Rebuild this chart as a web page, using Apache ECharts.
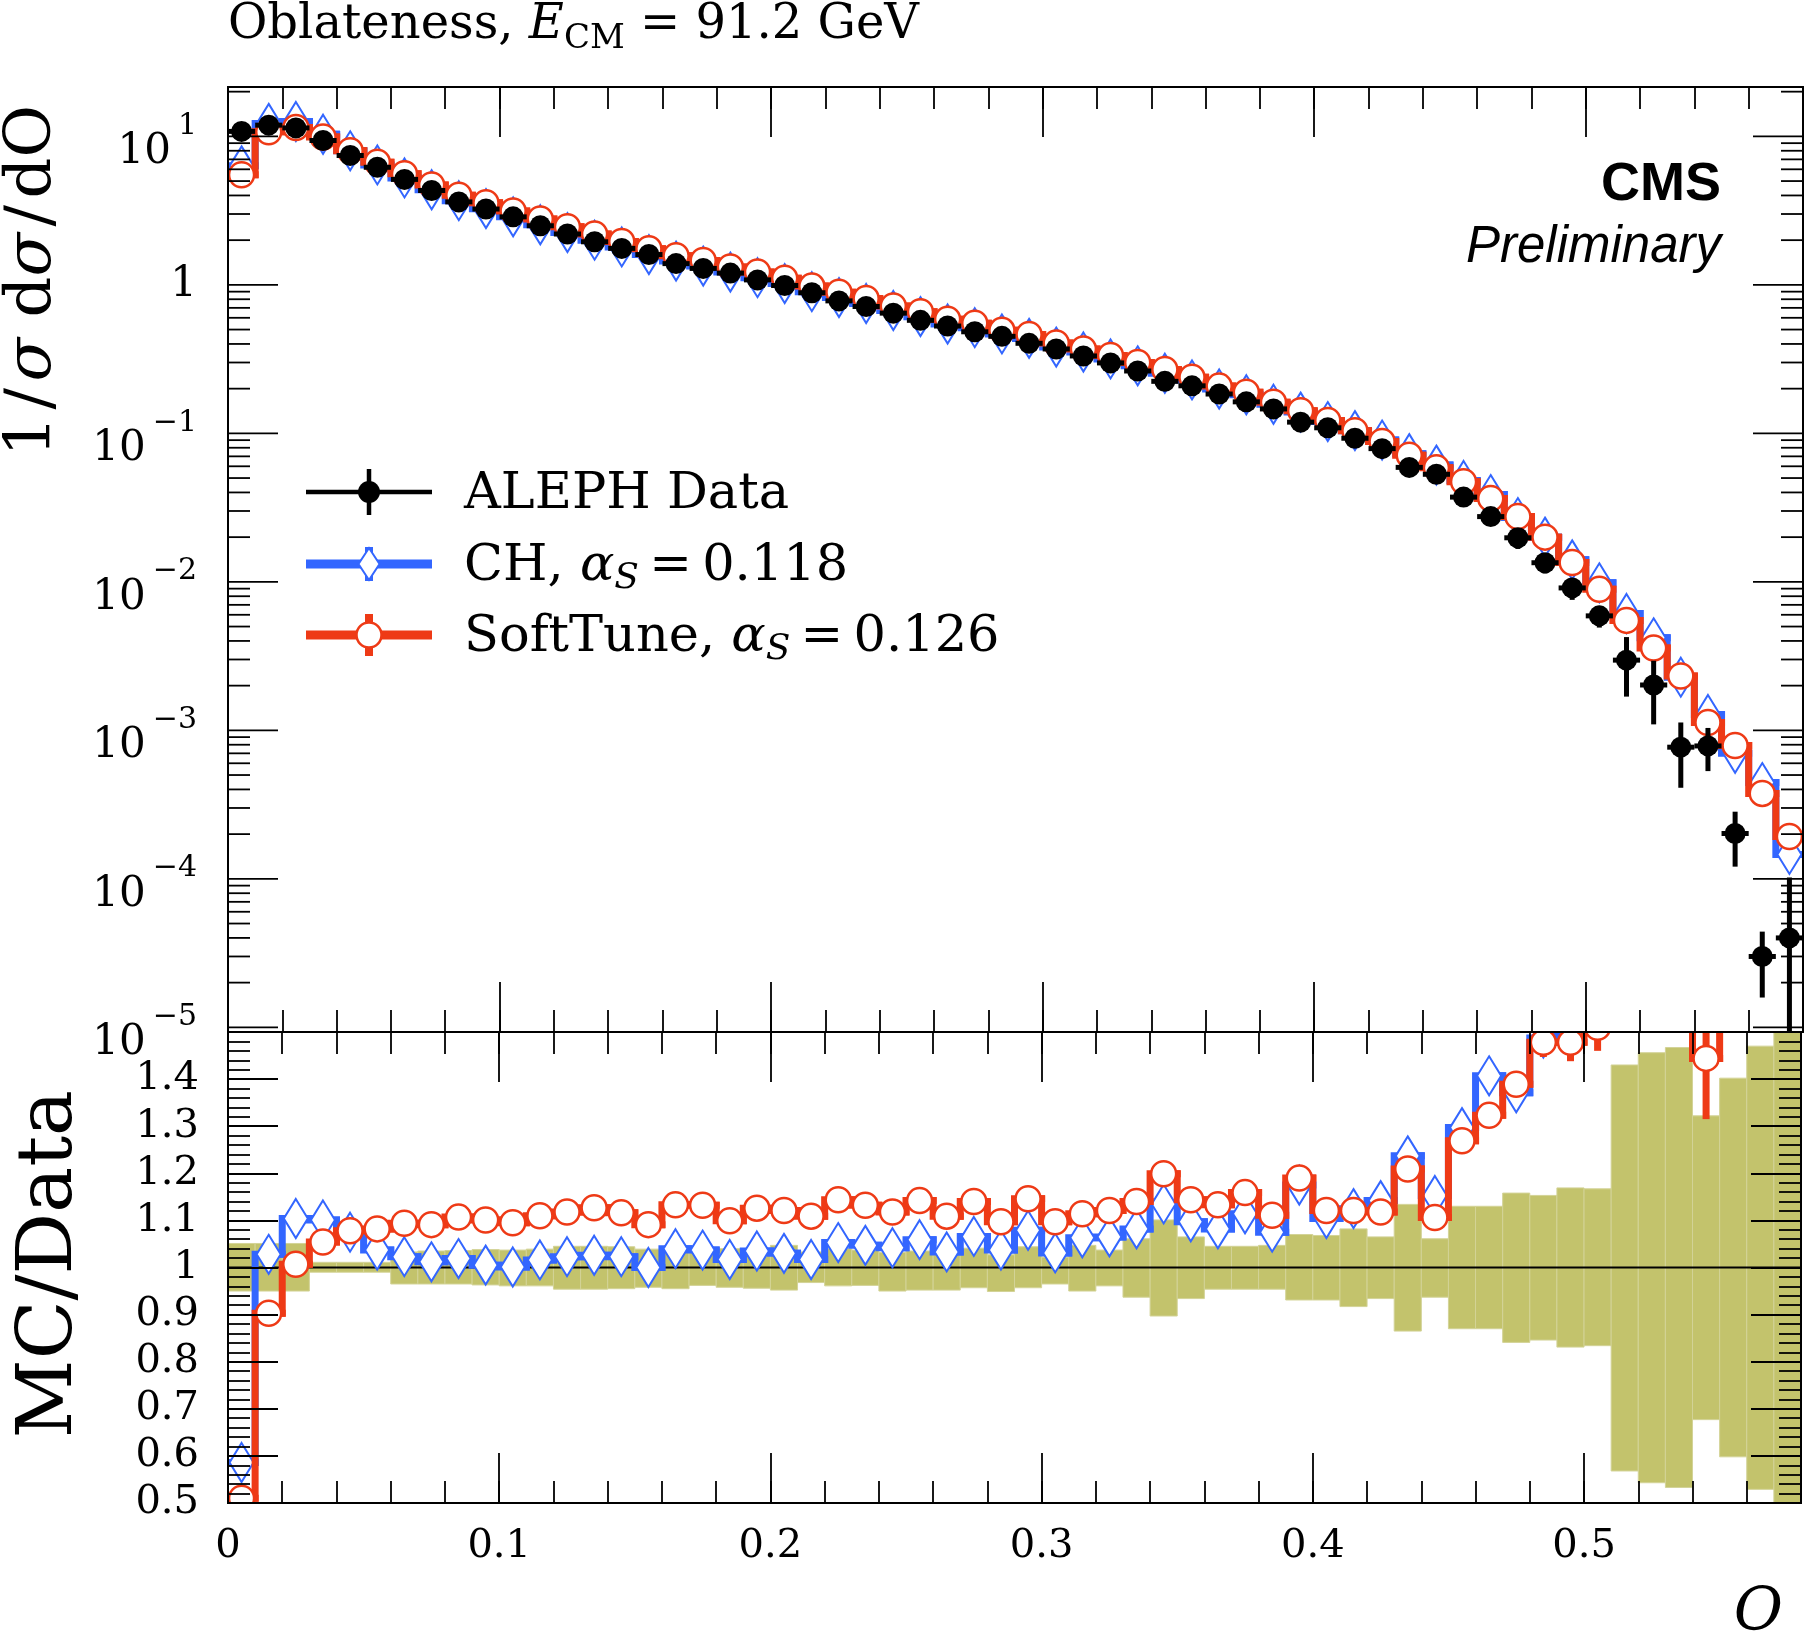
<!DOCTYPE html>
<html>
<head>
<meta charset="utf-8">
<script src="https://cdn.jsdelivr.net/npm/echarts@6/dist/echarts.min.js"></script>
<style>
html,body{margin:0;padding:0;background:#ffffff;}
#chart{width:1804px;height:1636px;}
</style>
</head>
<body>
<div id="chart"></div>
<script>
// ---------------- data ----------------
const oblateness = [
  0.005,0.015,0.025,0.035,0.045,0.055,0.065,0.075,0.085,0.095,
  0.105,0.115,0.125,0.135,0.145,0.155,0.165,0.175,0.185,0.195,
  0.205,0.215,0.225,0.235,0.245,0.255,0.265,0.275,0.285,0.295,
  0.305,0.315,0.325,0.335,0.345,0.355,0.365,0.375,0.385,0.395,
  0.405,0.415,0.425,0.435,0.445,0.455,0.465,0.475,0.485,0.495,
  0.505,0.515,0.525,0.535,0.545,0.555,0.565,0.575];

const alephData = [
  10.8, 11.9, 11.4, 9.38, 7.43, 6.19, 5.13, 4.32, 3.62, 3.24,
  2.87, 2.50, 2.20, 1.95, 1.76, 1.60, 1.39, 1.29, 1.20, 1.08,
  0.99, 0.885, 0.78, 0.715, 0.645, 0.577, 0.528, 0.483, 0.45, 0.404,
  0.37, 0.332, 0.298, 0.263, 0.224, 0.209, 0.184, 0.163, 0.146, 0.119,
  0.109, 0.0927, 0.0789, 0.059, 0.053, 0.0372, 0.0275, 0.0198, 0.01345, 0.0091,
  0.0059, 0.00297, 0.00202, 0.00077, 0.000785, 0.000202, 0.00003, 0.00004];

const chValues = [
  6.33, 12.23, 12.59, 10.33, 7.99, 6.42, 5.25, 4.37, 3.69, 3.26,
  2.87, 2.54, 2.25, 2.00, 1.80, 1.60, 1.446, 1.338, 1.22, 1.118,
  1.02, 0.90, 0.821, 0.749, 0.672, 0.611, 0.545, 0.515, 0.467, 0.436,
  0.381, 0.353, 0.317, 0.285, 0.254, 0.229, 0.199, 0.182, 0.157, 0.139,
  0.120, 0.1043, 0.0901, 0.073, 0.0611, 0.0482, 0.0387, 0.0271, 0.0200, 0.01406,
  0.00985, 0.00612, 0.0042, 0.00228, 0.00128, 0.000700, 0.000445, 0.000146];

const softTuneValues = [
  5.51, 10.75, 11.48, 9.89, 8.01, 6.70, 5.61, 4.71, 4.01, 3.57,
  3.14, 2.78, 2.46, 2.20, 1.96, 1.75, 1.57, 1.46, 1.32, 1.22,
  1.11, 0.981, 0.892, 0.809, 0.721, 0.659, 0.586, 0.551, 0.494, 0.463,
  0.406, 0.370, 0.334, 0.300, 0.269, 0.239, 0.208, 0.189, 0.162, 0.142,
  0.122, 0.104, 0.0882, 0.0713, 0.0586, 0.0472, 0.0364, 0.0275, 0.0200, 0.0135,
  0.0089, 0.0055, 0.00358, 0.00232, 0.00113, 0.00079, 0.000376, 0.000193];

const chRatio = [
  0.586, 1.028, 1.104, 1.101, 1.075, 1.037, 1.023, 1.012, 1.019, 1.005,
  1.001, 1.016, 1.023, 1.026, 1.023, 1.000, 1.040, 1.037, 1.017, 1.035,
  1.030, 1.017, 1.053, 1.047, 1.042, 1.059, 1.033, 1.066, 1.037, 1.079,
  1.031, 1.063, 1.065, 1.082, 1.135, 1.097, 1.082, 1.114, 1.075, 1.175,
  1.104, 1.125, 1.142, 1.237, 1.153, 1.297, 1.407, 1.371, 1.487, 1.545,
  1.67, 2.06, 2.08, 2.96, 1.63, 3.47, 14.8, 3.65];

const softTuneRatio = [
  0.51, 0.903, 1.007, 1.054, 1.078, 1.082, 1.094, 1.091, 1.107, 1.101,
  1.095, 1.110, 1.118, 1.127, 1.116, 1.091, 1.133, 1.132, 1.099, 1.126,
  1.121, 1.109, 1.144, 1.132, 1.118, 1.142, 1.109, 1.140, 1.097, 1.146,
  1.097, 1.114, 1.121, 1.140, 1.199, 1.144, 1.133, 1.159, 1.111, 1.190,
  1.121, 1.121, 1.118, 1.209, 1.106, 1.269, 1.323, 1.389, 1.478, 1.478,
  1.51, 1.85, 1.77, 3.01, 1.444, 3.91, 12.5, 4.8];

// MC statistical uncertainty, in ratio units
const chErrRatio = [
  0.004,0.004,0.004,0.004,0.004,0.004,0.004,0.004,0.004,0.004,
  0.004,0.004,0.004,0.004,0.004,0.004,0.004,0.004,0.004,0.004,
  0.004,0.004,0.004,0.004,0.004,0.004,0.004,0.004,0.004,0.004,
  0.005,0.005,0.005,0.005,0.006,0.006,0.006,0.006,0.007,0.008,
  0.008,0.009,0.01,0.012,0.012,0.014,0.016,0.02,0.03,0.04,
  0.05,0.08,0.08,0.15,0.12,0.3,1.5,0.6];
const softTuneErrRatio = [
  0.004,0.004,0.004,0.004,0.004,0.004,0.004,0.004,0.004,0.004,
  0.004,0.004,0.004,0.004,0.004,0.004,0.004,0.004,0.004,0.004,
  0.004,0.004,0.004,0.004,0.004,0.004,0.004,0.004,0.004,0.004,
  0.005,0.005,0.005,0.005,0.006,0.006,0.006,0.006,0.007,0.008,
  0.008,0.009,0.01,0.012,0.012,0.014,0.016,0.02,0.031,0.04,
  0.05,0.08,0.08,0.15,0.129,0.3,1.5,0.6];

// data uncertainty band (relative), upper and lower edges
const bandUp = [
  1.051, 1.051, 1.051, 1.011, 1.011, 1.011, 1.033, 1.035, 1.036, 1.038,
  1.037, 1.039, 1.045, 1.045, 1.044, 1.039, 1.042, 1.040, 1.040, 1.033,
  1.047, 1.033, 1.040, 1.037, 1.032, 1.035, 1.027, 1.041, 1.027, 1.044,
  1.022, 1.047, 1.037, 1.061, 1.101, 1.065, 1.045, 1.045, 1.047, 1.070,
  1.068, 1.082, 1.065, 1.134, 1.061, 1.130, 1.130, 1.158, 1.153, 1.169,
  1.167, 1.430, 1.456, 1.467, 1.322, 1.402, 1.470, 2.55];
const bandDown = [
  0.950, 0.950, 0.950, 0.990, 0.990, 0.990, 0.965, 0.965, 0.965, 0.963,
  0.961, 0.961, 0.954, 0.954, 0.955, 0.958, 0.955, 0.962, 0.958, 0.956,
  0.952, 0.968, 0.961, 0.962, 0.950, 0.952, 0.952, 0.957, 0.949, 0.957,
  0.965, 0.950, 0.961, 0.937, 0.897, 0.934, 0.954, 0.954, 0.954, 0.931,
  0.931, 0.917, 0.934, 0.865, 0.937, 0.870, 0.870, 0.841, 0.846, 0.831,
  0.834, 0.568, 0.543, 0.533, 0.677, 0.598, 0.529, -0.55];

const logMajorTicks = [1e-5, 1e-4, 1e-3, 1e-2, 1e-1, 1, 10];
const logMajorLabels = [['10','\u22125'],['10','\u22124'],['10','\u22123'],['10','\u22122'],['10','\u22121'],['1',''],['10','1']];
const logMinorFactors = [2, 3, 4, 5, 6, 7, 8, 9];

// ---------------- constants ----------------
const SERIF = 'DejaVu Serif';
const SANS = 'Liberation Sans';
const BW = 0.01;
const X_MIN = 0, X_MAX = 0.58;
const Y_MIN = 9.3e-6, Y_MAX = 21.5;
const R_MIN = 0.5, R_MAX = 1.5;
const RED = '#EE3A16';
const BLUE = '#3366FF';
const OLIVE = '#C3C36C';
const MAJ = 50, MIN = 22;
const LBL = 40;

// ---------------- axes ----------------
function xAx(grid, pos, interval, len, labels) {
  return {
    type: 'value', gridIndex: grid, position: pos, min: X_MIN, max: X_MAX, interval: interval, z: 20,
    axisLine: { show: true, onZero: false, lineStyle: { color: '#000', width: 2 } },
    axisTick: { show: true, inside: true, length: len, lineStyle: { color: '#000', width: 1.8 } },
    axisLabel: labels ? {
      show: true, margin: 24, fontSize: LBL, fontFamily: SERIF, color: '#000',
      formatter: function (v) {
        const r = Math.round(v * 10) / 10;
        if (Math.abs(v - r) > 1e-6 || v > 0.55) return '';
        return r === 0 ? '0' : r.toFixed(1);
      }
    } : { show: false },
    splitLine: { show: false }
  };
}
function rAx(pos, interval, len, labels) {
  return {
    type: 'value', gridIndex: 1, position: pos, min: R_MIN, max: R_MAX, interval: interval, z: 20,
    axisLine: { show: true, onZero: false, lineStyle: { color: '#000', width: 2 } },
    axisTick: { show: true, inside: true, length: len, lineStyle: { color: '#000', width: 1.8 } },
    axisLabel: labels ? {
      show: true, margin: 29, fontSize: LBL, fontFamily: SERIF, color: '#000',
      formatter: function (v) {
        const r = Math.round(v * 10) / 10;
        if (Math.abs(v - r) > 1e-6 || v > 1.45) return '';
        return r === 1 ? '1' : r.toFixed(1);
      }
    } : { show: false },
    splitLine: { show: false }
  };
}
function logAx(pos) {
  return {
    type: 'log', logBase: 10, gridIndex: 0, position: pos, min: Y_MIN, max: Y_MAX, z: 20,
    axisLine: { show: true, onZero: false, lineStyle: { color: '#000', width: 2 } },
    axisTick: { show: false }, axisLabel: { show: false }, splitLine: { show: false }, minorTick: { show: false }
  };
}

// ---------------- series builders ----------------
function stepSeries(name, vals, errR, errScale, color, xi, yi, z) {
  return {
    type: 'custom', name: name, xAxisIndex: xi, yAxisIndex: yi, z: z, clip: true, silent: true,
    encode: { x: 0, y: 1 },
    data: vals.map(function (v, i) { return [oblateness[i], v]; }),
    renderItem: function (params, api) {
      const i = params.dataIndex;
      const x = api.value(0), y = api.value(1);
      const pts = [];
      if (i > 0) pts.push(api.coord([x - BW / 2, vals[i - 1]]));
      pts.push(api.coord([x - BW / 2, y]));
      pts.push(api.coord([x + BW / 2, y]));
      const e = errR[i] * errScale(i);
      const lo = Math.max(y - e, y * 1e-3);
      const a = api.coord([x, y + e]), b = api.coord([x, lo]);
      return {
        type: 'group', children: [
          { type: 'polyline', shape: { points: pts }, style: { stroke: color, lineWidth: 7, fill: null, lineJoin: 'miter', lineCap: 'square' } },
          { type: 'line', shape: { x1: a[0], y1: a[1], x2: b[0], y2: b[1] }, style: { stroke: color, lineWidth: 7 } }
        ]
      };
    }
  };
}
function markerSeries(name, vals, kind, color, xi, yi, z) {
  return {
    type: 'custom', name: name, xAxisIndex: xi, yAxisIndex: yi, z: z, clip: true, silent: true,
    encode: { x: 0, y: 1 },
    data: vals.map(function (v, i) { return [oblateness[i], v]; }),
    renderItem: function (params, api) {
      const p = api.coord([api.value(0), api.value(1)]);
      if (kind === 'diamond') {
        return { type: 'polygon', shape: { points: [[p[0], p[1] - 19.5], [p[0] + 12, p[1]], [p[0], p[1] + 19.5], [p[0] - 12, p[1]]] },
          style: { fill: '#fff', stroke: color, lineWidth: 2 } };
      }
      return { type: 'circle', shape: { cx: p[0], cy: p[1], r: 12.5 }, style: { fill: '#fff', stroke: color, lineWidth: 2.5 } };
    }
  };
}

const dataSeries = {
  type: 'custom', name: 'ALEPH Data', xAxisIndex: 0, yAxisIndex: 0, z: 9, clip: true, silent: true,
  encode: { x: 0, y: 1 },
  data: alephData.map(function (v, i) { return [oblateness[i], v, bandUp[i], bandDown[i]]; }),
  renderItem: function (params, api) {
    const x = api.value(0), y = api.value(1);
    const hiV = y * api.value(2);
    const loV = Math.max(y * api.value(3), Y_MIN * 1e-3);
    const c = api.coord([x, y]);
    const l = api.coord([x - BW / 2, y]), r = api.coord([x + BW / 2, y]);
    const h = api.coord([x, hiV]), d = api.coord([x, loV]);
    return {
      type: 'group', children: [
        { type: 'line', shape: { x1: l[0], y1: l[1], x2: r[0], y2: r[1] }, style: { stroke: '#000', lineWidth: 5 } },
        { type: 'line', shape: { x1: h[0], y1: h[1], x2: d[0], y2: d[1] }, style: { stroke: '#000', lineWidth: 5 } },
        { type: 'circle', shape: { cx: c[0], cy: c[1], r: 10.5 }, style: { fill: '#000' } }
      ]
    };
  }
};

const bandSeries = {
  type: 'custom', name: 'Data uncertainty', xAxisIndex: 4, yAxisIndex: 2, z: 1, clip: true, silent: true,
  encode: { x: 0, y: 1 },
  data: bandUp.map(function (v, i) { return [oblateness[i], v, bandDown[i]]; }),
  renderItem: function (params, api) {
    const x = api.value(0);
    const a = api.coord([x - BW / 2, api.value(1)]);
    const b = api.coord([x + BW / 2, api.value(2)]);
    return { type: 'rect', shape: { x: a[0], y: a[1], width: b[0] - a[0], height: b[1] - a[1] },
      style: { fill: OLIVE, stroke: '#D3D397', lineWidth: 1 } };
  }
};

// reference line at ratio = 1
const unityLine = [[X_MIN, 1], [X_MAX, 1]];
const unitySeries = {
  type: 'custom', xAxisIndex: 4, yAxisIndex: 2, z: 2, clip: false, silent: true,
  encode: { x: 0, y: 1 },
  data: [[unityLine[0][0], unityLine[0][1], unityLine[1][0]]],
  renderItem: function (params, api) {
    const a = api.coord([api.value(0), api.value(1)]);
    const b = api.coord([api.value(2), api.value(1)]);
    return { type: 'line', shape: { x1: a[0], y1: a[1], x2: b[0], y2: b[1] }, style: { stroke: '#000', lineWidth: 2 } };
  }
};

// log-axis ticks (major + minor), left and right
const logTickRows = [];
logMajorTicks.forEach(function (v) { logTickRows.push([X_MIN, v, 1]); });
logMajorTicks.forEach(function (v) { logMinorFactors.forEach(function (f) { logTickRows.push([X_MIN, v * f, 0]); }); });
const logTickSeries = {
  type: 'custom', xAxisIndex: 0, yAxisIndex: 0, z: 20, clip: false, silent: true,
  encode: { x: 0, y: 1 },
  data: logTickRows,
  renderItem: function (params, api) {
    const v = api.value(1);
    if (v < Y_MIN || v > Y_MAX) return null;
    const len = api.value(2) ? MAJ : MIN;
    const a = api.coord([X_MIN, v]), b = api.coord([X_MAX, v]);
    const st = { stroke: '#000', lineWidth: 1.8 };
    return { type: 'group', children: [
      { type: 'line', shape: { x1: a[0], y1: a[1], x2: a[0] + len, y2: a[1] }, style: st },
      { type: 'line', shape: { x1: b[0], y1: b[1], x2: b[0] - len, y2: b[1] }, style: st }
    ] };
  }
};
const RICH_LOG = {
  b: { fontSize: 42, fontFamily: SERIF, fill: '#000', padding: [32, 0, 0, 0] },
  s: { fontSize: 30, fontFamily: SERIF, fill: '#000', padding: [0, 0, 21, 7] },
  c: { fontSize: 42, fontFamily: SERIF, fill: '#000' }
};
const logLabelSeries = {
  type: 'custom', xAxisIndex: 0, yAxisIndex: 0, z: 20, clip: false, silent: true,
  encode: { x: 0, y: 1 },
  data: logMajorTicks.map(function (v, i) { return [X_MIN, v, i]; }),
  renderItem: function (params, api) {
    const i = api.value(2);
    const p = api.coord([X_MIN, api.value(1)]);
    const parts = logMajorLabels[i];
    const text = parts[1] ? '{b|' + parts[0] + '}{s|' + parts[1] + '}' : '{c|' + parts[0] + '}';
    return { type: 'text', x: p[0] - 31, y: p[1], style: { text: text, rich: RICH_LOG, align: 'right', verticalAlign: 'middle', fill: '#000' } };
  }
};

// ---------------- annotations ----------------
const ser = function (o) { return Object.assign({ fontFamily: SERIF, fill: '#000' }, o); };
const HS = '\u200a';
const TS = '\u2009';
const graphic = [
  { type: 'text', x: 228, y: 26, z: 100, style: {
      text: '{r|Oblateness, }{i|E}{sub|CM}{r| = 91.2 GeV}', align: 'left', verticalAlign: 'middle',
      rich: { r: ser({ fontSize: 48 }), i: ser({ fontSize: 48, fontStyle: 'italic' }), sub: ser({ fontSize: 34, padding: [26, 0, 0, 0] }) } } },
  { type: 'text', x: 1721, y: 185, z: 100, style: { text: 'CMS', fontFamily: SANS, fontWeight: 'bold', fontSize: 54, fill: '#000', align: 'right', verticalAlign: 'middle' } },
  { type: 'text', x: 1721, y: 248, z: 100, style: { text: 'Preliminary', fontFamily: SANS, fontStyle: 'italic', fontSize: 51, fill: '#000', align: 'right', verticalAlign: 'middle' } },
  // y axis titles
  { type: 'text', x: 33, y: 105, rotation: Math.PI / 2, z: 100, style: {
      text: '{r|1' + HS + '/' + HS + '}{i|\u03c3}{r| d}{i|\u03c3}{r|' + HS + '/' + HS + 'dO}', align: 'right', verticalAlign: 'middle',
      rich: { r: ser({ fontSize: 64 }), i: ser({ fontSize: 64, fontStyle: 'italic' }) } } },
  { type: 'text', x: 51, y: 1090, rotation: Math.PI / 2, z: 100, style: {
      text: 'MC/Data', fontFamily: SERIF, fontSize: 77, fill: '#000', align: 'right', verticalAlign: 'middle' } },
  // x axis title
  { type: 'text', x: 1783, y: 1614, z: 100, style: { text: 'O', fontFamily: SERIF, fontStyle: 'italic', fontSize: 60, fill: '#000', align: 'right', verticalAlign: 'middle' } },
  // legend
  { type: 'line', z: 100, shape: { x1: 306, y1: 492, x2: 432, y2: 492 }, style: { stroke: '#000', lineWidth: 4.5 } },
  { type: 'line', z: 100, shape: { x1: 369, y1: 469, x2: 369, y2: 515 }, style: { stroke: '#000', lineWidth: 4.5 } },
  { type: 'circle', z: 101, shape: { cx: 369, cy: 492, r: 11 }, style: { fill: '#000' } },
  { type: 'line', z: 100, shape: { x1: 306, y1: 564, x2: 432, y2: 564 }, style: { stroke: BLUE, lineWidth: 9 } },
  { type: 'line', z: 100, shape: { x1: 369, y1: 547, x2: 369, y2: 581 }, style: { stroke: BLUE, lineWidth: 8 } },
  { type: 'polygon', z: 101, shape: { points: [[369, 548], [379.5, 564], [369, 580], [358.5, 564]] }, style: { fill: '#fff', stroke: BLUE, lineWidth: 2 } },
  { type: 'line', z: 100, shape: { x1: 306, y1: 635, x2: 432, y2: 635 }, style: { stroke: RED, lineWidth: 9 } },
  { type: 'line', z: 100, shape: { x1: 369, y1: 614, x2: 369, y2: 656 }, style: { stroke: RED, lineWidth: 8 } },
  { type: 'circle', z: 101, shape: { cx: 369, cy: 635, r: 12.5 }, style: { fill: '#fff', stroke: RED, lineWidth: 2.5 } },
  { type: 'text', x: 464, y: 495, z: 100, style: { text: 'ALEPH Data', fontFamily: SERIF, fontSize: 51, fill: '#000', align: 'left', verticalAlign: 'middle' } },
  { type: 'text', x: 464, y: 567, z: 100, style: {
      text: '{r|CH, }{i|\u03b1}{sub|S}{r|' + TS + '=' + TS + '0.118}', align: 'left', verticalAlign: 'middle',
      rich: { r: ser({ fontSize: 51 }), i: ser({ fontSize: 51, fontStyle: 'italic' }), sub: ser({ fontSize: 36, fontStyle: 'italic', padding: [24, 0, 0, 0] }) } } },
  { type: 'text', x: 464, y: 638, z: 100, style: {
      text: '{r|SoftTune, }{i|\u03b1}{sub|S}{r|' + TS + '=' + TS + '0.126}', align: 'left', verticalAlign: 'middle',
      rich: { r: ser({ fontSize: 51 }), i: ser({ fontSize: 51, fontStyle: 'italic' }), sub: ser({ fontSize: 36, fontStyle: 'italic', padding: [24, 0, 0, 0] }) } } }
];

const option = {
  animation: false,
  backgroundColor: '#ffffff',
  textStyle: { fontFamily: SERIF },
  grid: [
    { left: 228, top: 87, width: 1575, height: 945 },
    { left: 228, top: 1032, width: 1575, height: 471 }
  ],
  xAxis: [
    xAx(0, 'bottom', 0.1, MAJ, false), xAx(0, 'bottom', 0.02, MIN, false),
    xAx(0, 'top', 0.1, MAJ, false), xAx(0, 'top', 0.02, MIN, false),
    xAx(1, 'bottom', 0.1, MAJ, true), xAx(1, 'bottom', 0.02, MIN, false),
    xAx(1, 'top', 0.1, MAJ, false), xAx(1, 'top', 0.02, MIN, false)
  ],
  yAxis: [
    logAx('left'), logAx('right'),
    rAx('left', 0.1, MAJ, true), rAx('left', 0.02, MIN, false),
    rAx('right', 0.1, MAJ, false), rAx('right', 0.02, MIN, false)
  ],
  series: [
    // main panel
    stepSeries('CH', chValues, chErrRatio, function (i) { return alephData[i]; }, BLUE, 0, 0, 3),
    markerSeries('CH', chValues, 'diamond', BLUE, 0, 0, 4),
    stepSeries('SoftTune', softTuneValues, softTuneErrRatio, function (i) { return alephData[i]; }, RED, 0, 0, 5),
    markerSeries('SoftTune', softTuneValues, 'circle', RED, 0, 0, 6),
    dataSeries,
    logTickSeries, logLabelSeries,
    // ratio panel
    bandSeries, unitySeries,
    stepSeries('CH ratio', chRatio, chErrRatio, function () { return 1; }, BLUE, 4, 2, 3),
    markerSeries('CH ratio', chRatio, 'diamond', BLUE, 4, 2, 4),
    stepSeries('SoftTune ratio', softTuneRatio, softTuneErrRatio, function () { return 1; }, RED, 4, 2, 5),
    markerSeries('SoftTune ratio', softTuneRatio, 'circle', RED, 4, 2, 6)
  ],
  graphic: graphic
};

const chart = echarts.init(document.getElementById('chart'), null, { renderer: 'canvas' });
chart.setOption(option);
</script>
</body>
</html>
